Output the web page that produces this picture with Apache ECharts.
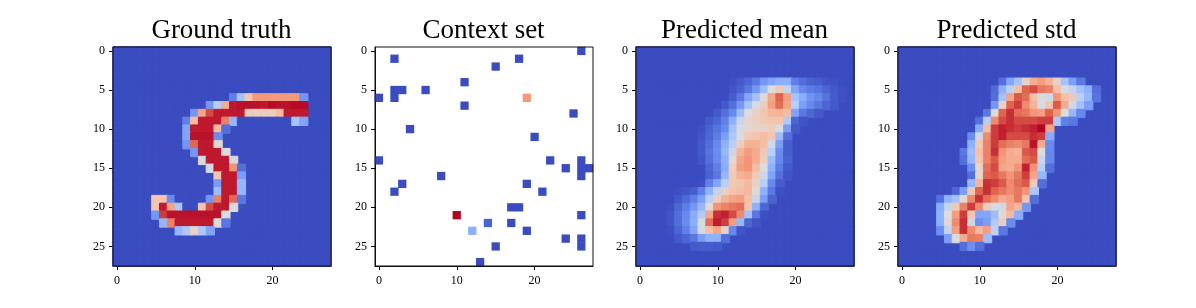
<!DOCTYPE html>
<html>
<head>
<meta charset="utf-8">
<style>html,body{margin:0;padding:0;background:#fff}#main{width:1196px;height:308px;filter:blur(0.45px)}</style>
<script src="https://cdn.jsdelivr.net/npm/echarts@6/dist/echarts.min.js"></script>
</head>
<body>
<div id="main"></div>
<script>
var titles = ['Ground truth', 'Context set', 'Predicted mean', 'Predicted std'];
var cells = [];
for (var n = 0; n < 28; n++) cells.push(n);
var coolwarm = ['#3b4cc0', '#6282ea', '#8db0fe', '#b6cefa', '#dddcdc', '#f5c4ac', '#f49a7b', '#dc5d4a', '#b40426'];

// each row: [row, first column, values 0-100]
var groundTruth = [
  [6, 15, [12, 33, 62, 75, 75, 75, 75, 75, 75, 18]],
  [7, 12, [18, 37, 70, 97, 98, 98, 98, 97, 99, 98, 98, 99, 99]],
  [8, 10, [18, 72, 90, 97, 97, 97, 97, 58, 58, 58, 58, 65, 97, 97, 97]],
  [9, 9, [12, 65, 97, 97, 97, 80, 28, 0, 0, 0, 0, 0, 0, 0, 33, 22]],
  [10, 9, [22, 97, 97, 97, 65, 8]],
  [11, 9, [22, 98, 98, 98, 15]],
  [12, 9, [18, 85, 97, 97, 52]],
  [13, 10, [18, 97, 97, 97, 50]],
  [14, 11, [48, 97, 97, 97, 48]],
  [15, 12, [48, 97, 97, 76, 8]],
  [16, 13, [62, 97, 97, 20]],
  [17, 13, [20, 97, 97, 28]],
  [18, 13, [30, 97, 97, 28]],
  [19, 5, [62, 62, 15, 0, 0, 0, 0, 18, 80, 97, 85, 10]],
  [20, 5, [62, 97, 72, 35, 0, 0, 62, 90, 97, 97, 48]],
  [21, 5, [18, 92, 98, 98, 98, 98, 98, 98, 98, 50]],
  [22, 6, [28, 80, 97, 97, 97, 97, 97, 50, 10]],
  [23, 8, [28, 35, 55, 35, 22]]
];
var contextSet = [
  [0, 26, [0]], [1, 2, [0]], [1, 18, [0]], [2, 15, [0]], [4, 11, [0]],
  [5, 2, [0, 0]], [5, 6, [0]], [6, 0, [0]], [6, 2, [0]], [6, 19, [75]],
  [7, 11, [0]], [8, 25, [0]], [10, 4, [0]], [11, 20, [0]], [14, 0, [0]],
  [14, 22, [0]], [14, 26, [0]], [15, 24, [0]], [15, 26, [0, 0]], [16, 8, [0]],
  [16, 26, [0]], [17, 3, [0]], [17, 19, [0]], [18, 2, [0]], [18, 21, [0]],
  [20, 17, [0, 0]], [21, 10, [100]], [21, 26, [0]], [22, 14, [5]], [22, 17, [0]],
  [23, 12, [25]], [23, 19, [0]], [24, 24, [0]], [24, 26, [0]], [25, 15, [0]],
  [25, 26, [0]], [27, 13, [0]]
];
var predictedMean = [
  [4, 12, [1, 3, 6, 10, 18, 22, 25, 25, 12, 8, 5, 4, 2, 1]],
  [5, 12, [2, 5, 10, 18, 30, 50, 60, 42, 22, 14, 11, 9, 6, 3, 1]],
  [6, 12, [4, 10, 22, 32, 52, 72, 86, 74, 33, 24, 17, 14, 9, 4, 1]],
  [7, 11, [3, 8, 18, 33, 48, 58, 74, 84, 72, 38, 20, 14, 10, 6, 3]],
  [8, 10, [3, 8, 14, 30, 50, 55, 62, 66, 68, 65, 22, 10, 6, 3]],
  [9, 9, [3, 6, 12, 25, 44, 54, 56, 60, 62, 62, 36, 6, 2]],
  [10, 8, [1, 5, 9, 14, 32, 48, 53, 55, 55, 58, 48, 20, 3]],
  [11, 8, [2, 6, 11, 20, 35, 50, 60, 62, 65, 62, 30, 8]],
  [12, 8, [3, 8, 14, 25, 38, 58, 68, 68, 64, 46, 20, 4]],
  [13, 8, [3, 9, 15, 28, 45, 68, 74, 70, 60, 38, 15, 4]],
  [14, 8, [2, 8, 15, 25, 52, 72, 76, 70, 58, 30, 14, 5]],
  [15, 9, [6, 12, 24, 58, 74, 76, 65, 50, 26, 11, 3]],
  [16, 9, [5, 10, 28, 60, 68, 70, 60, 45, 22, 8, 2]],
  [17, 8, [1, 12, 22, 38, 60, 62, 66, 56, 38, 14, 4]],
  [18, 5, [1, 2, 4, 12, 26, 42, 56, 62, 64, 66, 52, 26, 10, 1]],
  [19, 5, [3, 7, 12, 20, 38, 56, 68, 72, 74, 64, 44, 20, 5]],
  [20, 4, [1, 6, 11, 18, 28, 52, 76, 80, 82, 84, 62, 26, 6]],
  [21, 4, [2, 8, 14, 24, 36, 72, 94, 96, 90, 78, 32, 10, 1]],
  [22, 4, [2, 8, 15, 25, 48, 84, 97, 92, 74, 28, 6, 2]],
  [23, 4, [1, 6, 12, 22, 46, 64, 72, 55, 14, 2]],
  [24, 5, [3, 6, 10, 20, 26, 26, 8]],
  [25, 7, [3, 4, 4, 3]]
];
var predictedStd = [
  [4, 13, [8, 22, 33, 55, 70, 74, 68, 55, 33, 20, 10]],
  [5, 12, [7, 25, 40, 64, 86, 90, 82, 80, 64, 48, 42, 32, 25, 8]],
  [6, 12, [8, 32, 72, 88, 84, 64, 48, 46, 76, 64, 60, 38, 28, 9]],
  [7, 12, [18, 55, 86, 92, 78, 68, 48, 62, 88, 70, 46, 32, 20]],
  [8, 11, [10, 50, 86, 94, 84, 82, 76, 74, 86, 76, 50, 28, 14]],
  [9, 10, [8, 38, 78, 90, 94, 90, 90, 90, 92, 92, 35, 12, 10]],
  [10, 10, [24, 64, 92, 96, 94, 92, 94, 96, 100, 72]],
  [11, 9, [15, 46, 78, 92, 96, 90, 90, 90, 94, 92, 24]],
  [12, 9, [26, 60, 80, 92, 84, 80, 78, 82, 98, 70, 15]],
  [13, 8, [10, 30, 64, 80, 94, 76, 70, 68, 88, 90, 50, 14]],
  [14, 8, [8, 28, 62, 80, 88, 74, 70, 70, 84, 88, 44, 14]],
  [15, 9, [16, 54, 84, 90, 72, 70, 76, 96, 76, 38, 8]],
  [16, 9, [8, 54, 86, 88, 82, 76, 82, 92, 72, 28]],
  [17, 9, [28, 68, 94, 92, 88, 78, 84, 88, 58, 8]],
  [18, 7, [6, 20, 60, 86, 94, 86, 82, 78, 82, 76, 34]],
  [19, 5, [8, 26, 32, 52, 78, 94, 84, 78, 70, 74, 82, 62, 8]],
  [20, 5, [24, 42, 60, 80, 92, 78, 58, 48, 46, 72, 66, 18]],
  [21, 5, [26, 50, 74, 92, 62, 22, 22, 30, 52, 66, 24]],
  [22, 5, [25, 52, 78, 94, 44, 16, 20, 36, 58, 15]],
  [23, 5, [16, 42, 74, 94, 78, 66, 74, 40, 10]],
  [24, 6, [20, 50, 70, 82, 80, 30]],
  [25, 8, [8, 16, 8]]
];

var panels = [groundTruth, contextSet, predictedMean, predictedStd];
var lefts = [113, 375, 636, 898];

function toItem(x, y, v, border) {
  // border in the cell colour closes the hairline seams between cells
  var c = echarts.color.lerp(v / 100, coolwarm);
  return { value: [x, y, v], itemStyle: { color: c, borderColor: c, borderWidth: border } };
}

function toCells(rows, filled) {
  var out = [];
  var border = filled ? 1 : 0;
  if (filled) {
    cells.forEach(function (y) {
      cells.forEach(function (x) { out.push(toItem(x, y, 0, border)); });
    });
  }
  rows.forEach(function (r) {
    r[2].forEach(function (v, i) { out.push(toItem(r[1] + i, r[0], v, border)); });
  });
  return out;
}

var font = 'Liberation Serif';
var every = function (step) {
  return function (i) { return i % step === 0; };
};
var option = {
  animation: false,
  backgroundColor: '#fff',
  title: [], grid: [], xAxis: [], yAxis: [], series: []
};
panels.forEach(function (rows, i) {
  option.title.push({
    text: titles[i], left: lefts[i] + 108.5, top: 17, padding: 0, textAlign: 'center',
    textStyle: { fontFamily: font, fontSize: 27, fontWeight: 'normal', color: '#000' }
  });
  option.grid.push({
    left: lefts[i], top: 47, width: 218, height: 219, show: true, z: 10,
    backgroundColor: 'transparent', borderColor: '#111', borderWidth: 1
  });
  option.xAxis.push({
    type: 'category', gridIndex: i, data: cells,
    axisLine: { show: true, onZero: false, lineStyle: { color: '#111' } }, splitLine: { show: false },
    axisTick: { show: true, alignWithLabel: true, length: 4, interval: every(10), lineStyle: { color: '#000' } },
    axisLabel: { interval: every(10), margin: 9, fontFamily: font, fontSize: 12, color: '#000' }
  });
  option.yAxis.push({
    type: 'category', gridIndex: i, data: cells, inverse: true,
    axisLine: { show: true, onZero: false, lineStyle: { color: '#111' } }, splitLine: { show: false },
    axisTick: { show: true, alignWithLabel: true, length: 4, interval: every(5), lineStyle: { color: '#000' } },
    axisLabel: { interval: every(5), margin: 8, fontFamily: font, fontSize: 12, color: '#000' }
  });
  option.series.push({
    type: 'heatmap', xAxisIndex: i, yAxisIndex: i,
    data: toCells(rows, i !== 1), progressive: 0
  });
});
var chart = echarts.init(document.getElementById('main'), null, { renderer: 'canvas' });
chart.setOption(option);
</script>
</body>
</html>
